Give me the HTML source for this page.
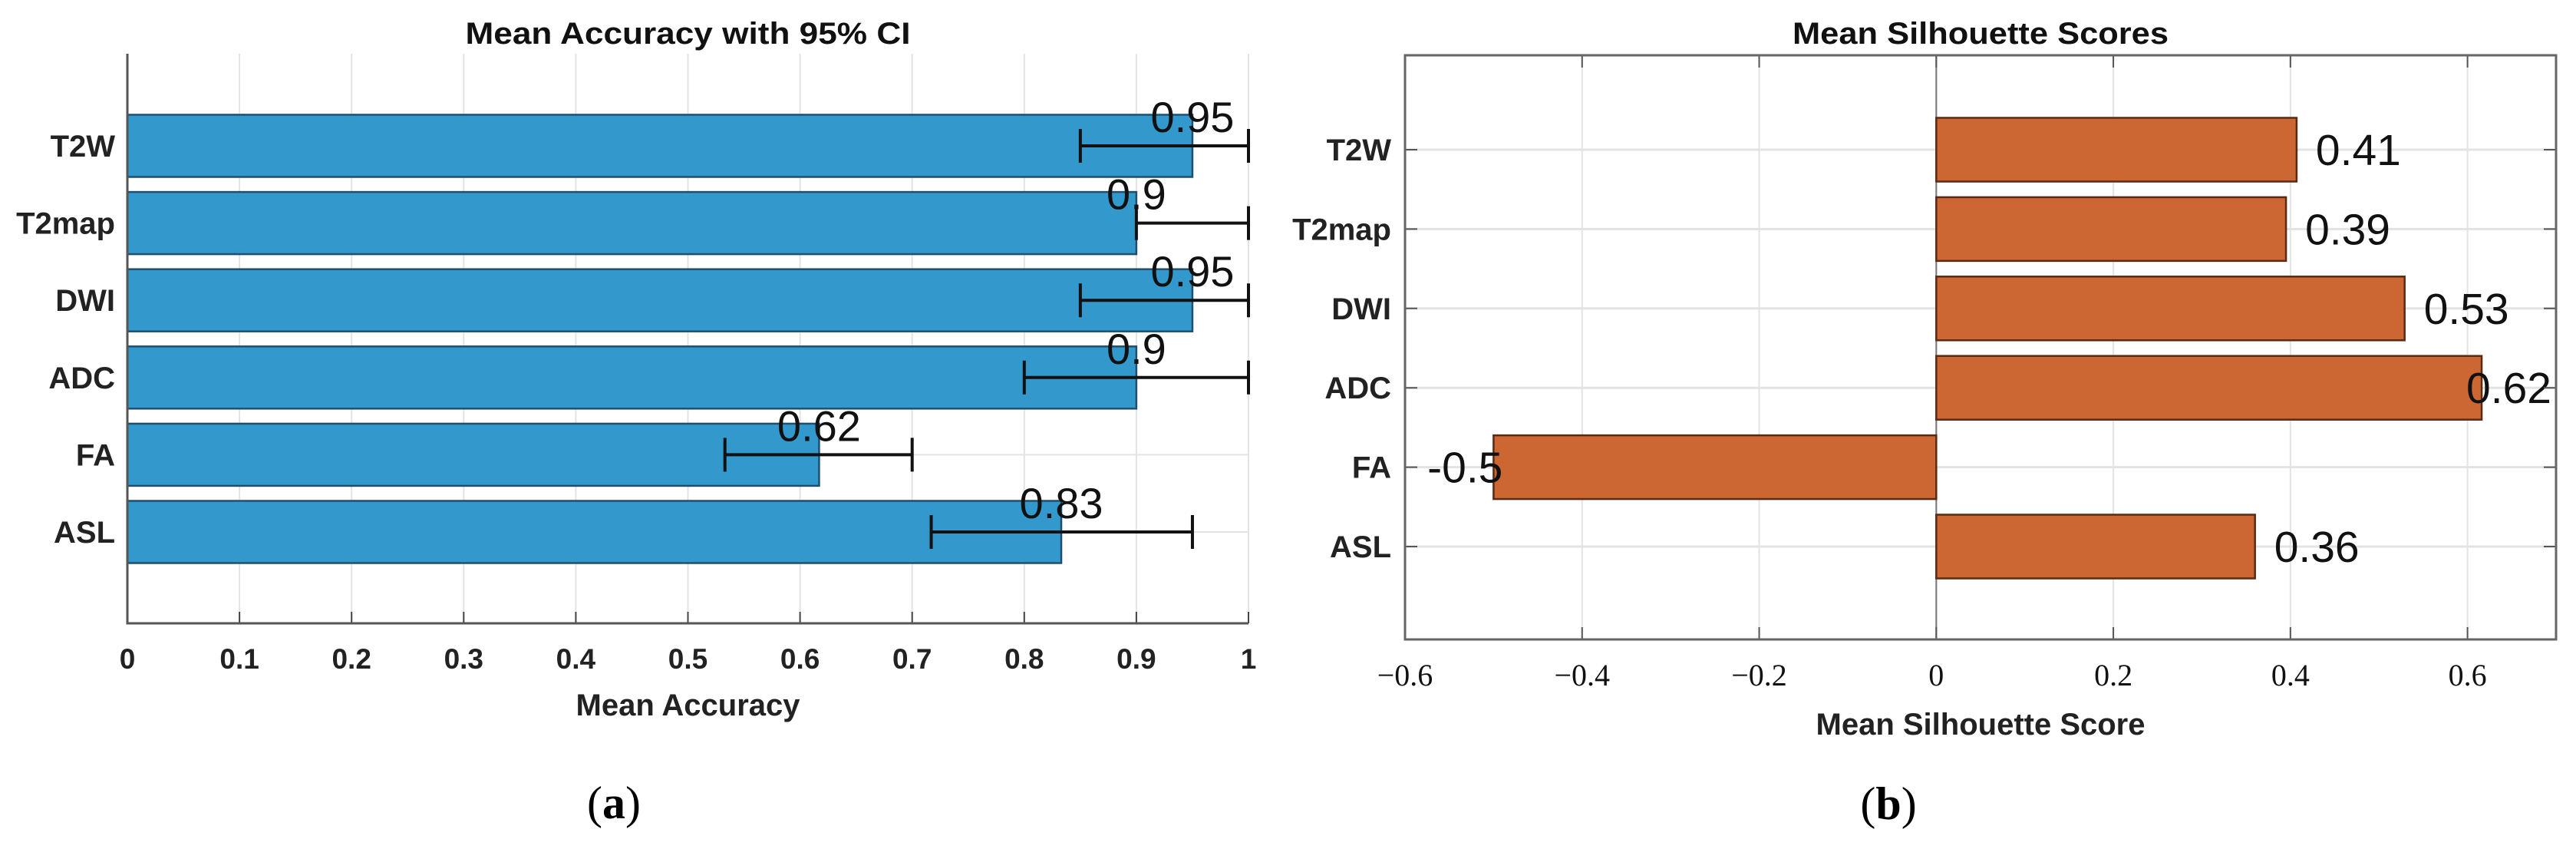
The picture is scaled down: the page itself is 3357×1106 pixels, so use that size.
<!DOCTYPE html>
<html><head><meta charset="utf-8"><style>
html,body{margin:0;padding:0;background:#fff;}
svg{display:block;}
</style></head><body>
<svg id="fig" xmlns="http://www.w3.org/2000/svg" width="3357" height="1106" viewBox="0 0 3357 1106">
<rect x="0" y="0" width="3357" height="1106" fill="#fff"/>
<g id="chartA"></g>
<g id="chartB"></g>
<text x="800" y="1066" font-family="Liberation Serif, serif" font-size="60" text-anchor="middle">(<tspan font-weight="bold">a</tspan>)</text>
<text x="2461" y="1067" font-family="Liberation Serif, serif" font-size="60" text-anchor="middle">(<tspan font-weight="bold">b</tspan>)</text>
</svg>
<script>
const categories = ['T2W','T2map','DWI','ADC','FA','ASL'];
const accMean = [0.95,0.90,0.95,0.90,0.617,0.833];
const ciLow = [0.85,0.90,0.85,0.80,0.533,0.717];
const ciHigh = [1.0,1.0,1.0,1.0,0.70,0.95];
const accLabels = ['0.95','0.9','0.95','0.9','0.62','0.83'];
const accTicks = [0,0.1,0.2,0.3,0.4,0.5,0.6,0.7,0.8,0.9,1];
const accTickLabels = ['0','0.1','0.2','0.3','0.4','0.5','0.6','0.7','0.8','0.9','1'];
const silValues = [0.407,0.395,0.529,0.616,-0.5,0.36];
const silLabels = ['0.41','0.39','0.53','0.62','-0.5','0.36'];
const silTicks = [-0.6,-0.4,-0.2,0,0.2,0.4,0.6];
const silTickLabels = ['\u22120.6','\u22120.4','\u22120.2','0','0.2','0.4','0.6'];

const NS='http://www.w3.org/2000/svg';
function mk(parent,tag,attrs,text){const e=document.createElementNS(NS,tag);for(const k in attrs)e.setAttribute(k,attrs[k]);if(text!==undefined)e.textContent=text;parent.appendChild(e);return e;}

// ---- Chart A ----
const A=document.getElementById('chartA');
const aL=166,aR=1627,aT=70,aB=812;
const xA=v=>aL+(v-0)/(1-0)*(aR-aL);
const yA=i=>190+i*100.6;
const bhA=81;
accTicks.forEach((t,i)=>{
  let g=mk(A,'line',{x1:xA(t),x2:xA(t),y1:aT,y2:aB,stroke:'#e3e3e3','stroke-width':2});
  
  
});
categories.forEach((c,i)=>{
  let g=mk(A,'line',{x1:aL,x2:aR,y1:yA(i),y2:yA(i),stroke:'#e3e3e3','stroke-width':2});
  
  
});
categories.forEach((c,i)=>{
  let b=mk(A,'rect',{x:xA(0),y:yA(i)-bhA/2,width:xA(accMean[i])-xA(0),height:bhA,fill:'#3398cc',stroke:'#1f4f6e','stroke-width':2.5});
  
  
});
categories.forEach((c,i)=>{
  const y=yA(i);
  let e=mk(A,'path',{d:`M${xA(ciLow[i])},${y}H${xA(ciHigh[i])}M${xA(ciLow[i])},${y-22}V${y+22}M${xA(ciHigh[i])},${y-22}V${y+22}`,stroke:'#111','stroke-width':4,fill:'none'});
  
  
  let t=mk(A,'text',{x:xA(accMean[i]),y:y-18,'font-family':'Liberation Sans, sans-serif','font-size':56,'text-anchor':'middle',fill:'#111'},accLabels[i]);
  
  
  let l=mk(A,'text',{x:150,y:y+14,'font-family':'Liberation Sans, sans-serif','font-size':40,'font-weight':'bold','text-anchor':'end',fill:'#222'},c);
  
  
});
accTicks.forEach((t,i)=>{
  let k=mk(A,'line',{x1:xA(t),x2:xA(t),y1:aB,y2:aB-15,stroke:'#444','stroke-width':2});
  
  
  let l=mk(A,'text',{x:xA(t),y:871,'font-family':'Liberation Sans, sans-serif','font-size':37,'font-weight':'bold','text-anchor':'middle',fill:'#222'},accTickLabels[i]);
  
  
});
let axA=mk(A,'path',{d:`M${aL},${aT}V${aB}H${aR}`,stroke:'#555','stroke-width':3,fill:'none'});


let tA=mk(A,'text',{x:(aL+aR)/2,y:57,'font-family':'Liberation Sans, sans-serif','font-size':40,'font-weight':'bold','text-anchor':'middle',fill:'#111',textLength:580,lengthAdjust:'spacingAndGlyphs'},'Mean Accuracy with 95% CI');


let xlA=mk(A,'text',{x:(aL+aR)/2,y:932,'font-family':'Liberation Sans, sans-serif','font-size':40,'font-weight':'bold','text-anchor':'middle',fill:'#222'},'Mean Accuracy');



// ---- Chart B ----
const B=document.getElementById('chartB');
const bL=1831,bR=3331,bT=72,bBt=833;
const xB=v=>bL+(v-(-0.6))/(0.7-(-0.6))*(bR-bL);
const yB=i=>195+i*103.4;
const bhB=83;
silTicks.forEach((t,i)=>{
  let g=mk(B,'line',{x1:xB(t),x2:xB(t),y1:bT,y2:bBt,stroke:'#e3e3e3','stroke-width':2});
  
  
});
categories.forEach((c,i)=>{
  let g=mk(B,'line',{x1:bL,x2:bR,y1:yB(i),y2:yB(i),stroke:'#e3e3e3','stroke-width':3});
  
  
});
let zl=mk(B,'line',{x1:xB(0),x2:xB(0),y1:bT,y2:bBt,stroke:'#777','stroke-width':2});


categories.forEach((c,i)=>{
  const v=silValues[i];
  const x0=Math.min(xB(0),xB(v)),w=Math.abs(xB(v)-xB(0));
  let b=mk(B,'rect',{x:x0,y:yB(i)-bhB/2,width:w,height:bhB,fill:'#cc6633',stroke:'#5a2a12','stroke-width':2.5});
  
  
  const pos=v>=0;
  let t=mk(B,'text',{x:pos?xB(v)+25:xB(v)+12,y:yB(i)+20,'font-family':'Liberation Sans, sans-serif','font-size':57,'text-anchor':pos?'start':'end',fill:'#111'},silLabels[i]);
  
  
  if(pos){const tw=t.getComputedTextLength();if(xB(v)+25+tw>bR-6){t.setAttribute('x',bR-6-tw);}}
  let l=mk(B,'text',{x:1813,y:yB(i)+14,'font-family':'Liberation Sans, sans-serif','font-size':40,'font-weight':'bold','text-anchor':'end',fill:'#222'},c);
  
  
  let k=mk(B,'path',{d:`M${bL},${yB(i)}h16M${bR},${yB(i)}h-16`,stroke:'#555','stroke-width':2});
  
  
});
silTicks.forEach((t,i)=>{
  let k=mk(B,'path',{d:`M${xB(t)},${bBt}v-16M${xB(t)},${bT}v16`,stroke:'#555','stroke-width':2});
  
  
  let l=mk(B,'text',{x:xB(t),y:893,'font-family':'Liberation Serif, serif','font-size':40,'text-anchor':'middle',fill:'#111'},silTickLabels[i]);
  
  
});
let axB=mk(B,'rect',{x:bL,y:bT,width:bR-bL,height:bBt-bT,stroke:'#666','stroke-width':3,fill:'none'});


let tB=mk(B,'text',{x:(bL+bR)/2,y:57,'font-family':'Liberation Sans, sans-serif','font-size':40,'font-weight':'bold','text-anchor':'middle',fill:'#111',textLength:490,lengthAdjust:'spacingAndGlyphs'},'Mean Silhouette Scores');


let xlB=mk(B,'text',{x:(bL+bR)/2,y:957,'font-family':'Liberation Sans, sans-serif','font-size':40,'font-weight':'bold','text-anchor':'middle',fill:'#222'},'Mean Silhouette Score');


</script>
</body></html>
